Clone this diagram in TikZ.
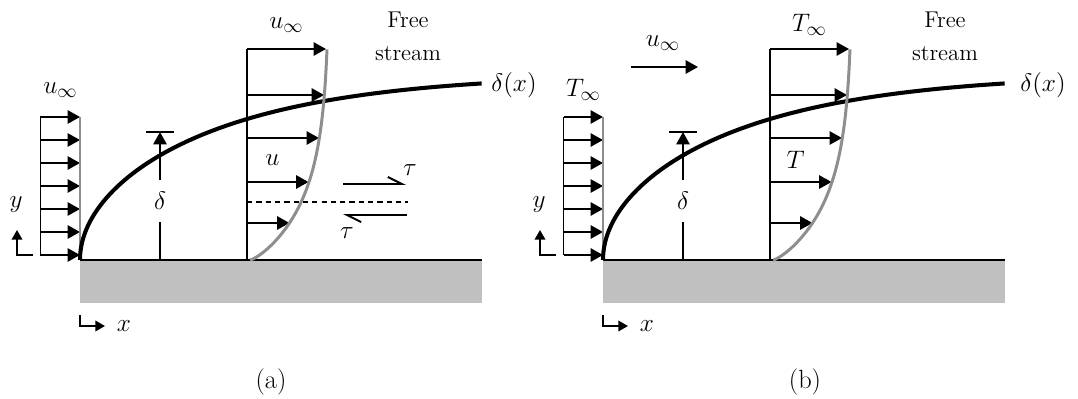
\documentclass[tikz,border=0pt]{standalone}
\usepackage{amsmath}
\usetikzlibrary{arrows.meta,positioning}
\definecolor{wallgray}{HTML}{C0C0C0}
\definecolor{profgray}{HTML}{8E8E8E}

\begin{document}
\begin{tikzpicture}[
  line width=1.1pt,
  flow/.style={-{Triangle[length=7pt,width=7.5pt]}},
  axis/.style={-{Triangle[length=5.5pt,width=6pt]}},
  shear/.style={-{Straight Barb[left,length=8pt,width=8pt]}},
  lbl/.style={font=\fontsize{15}{18}\selectfont, inner sep=1pt},
  txt/.style={font=\fontsize{13}{19}\selectfont, align=center},
  prof/.style={draw=profgray, line width=1.7pt},
  edge/.style={line width=2.3pt},
]
  \useasboundingbox (-1.6,-2.76) rectangle (19.96,5.2);

  % the two panels share the plate, the inflow and the profile
  \foreach \sx/\p/\q/\fx/\dx/\px in {0/a/u/6.56/8.68/3.82, 10.46/b/T/6.84/8.8/4.04}{
  \begin{scope}[xshift=\sx cm]
    \fill[wallgray] (0,0) rectangle (8.04,-0.854);
    \draw (0,0) -- (8.04,0);

    % uniform inflow at the leading edge
    \draw (-0.79,0.1) -- (-0.79,2.86);
    \foreach \k in {0,...,6}
      \draw[flow] (-0.79,{0.1+0.46*\k}) -- (0,{0.1+0.46*\k});
    \draw[prof] (0,0) -- (0,2.86);
    \node[lbl] (inflow\p) at (-0.39,3.4) {$\q_\infty$};

    % small axes
    \draw[axis] (-0.94,0.1) -- (-1.26,0.1) -- (-1.26,0.6);
    \node[lbl] (ylab\p) at (-1.28,1.1) {$y$};
    \draw[axis] (0,-1.1) -- (0,-1.32) -- (0.5,-1.32);
    \node[lbl] (xlab\p) at (0.88,-1.32) {$x$};

    % layer edge
    \draw[edge] plot[domain=0:2.8355, samples=90, variable=\t]
      ({\t*\t}, {1.72*\t/sqrt(1+0.0398*\t*\t*\t)});
    \node[lbl] (delx\p) at (\dx,3.5) {$\delta(x)$};

    % thickness marker
    \coordinate (dbase\p) at (1.6,0);
    \coordinate (dtop\p) at (1.6,2.56);
    \node[lbl, inner ysep=0.22cm] (dlab\p) at (1.6,1.18) {$\delta$};
    \draw (dbase\p) -- (dlab\p.south);
    \draw[flow] (dlab\p.north) -- (dtop\p);
    \draw (1.32,2.56) -- (1.88,2.56);

    % profile inside the layer
    \draw (3.34,0) -- (3.34,4.22);
    \foreach \y/\tip in {4.22/4.92, 3.3/4.88, 2.44/4.78, 1.56/4.57, 0.74/4.19}
      \draw[flow] (3.34,\y) -- (\tip,\y);
    \draw[prof] plot[domain=0:1, samples=60, variable=\s]
      ({3.4+1.54*tanh(2*\s*sqrt(\s))/0.964}, {4.22*\s*\s});
    \node[lbl] (top\p) at (4.13,4.7) {$\q_\infty$};
    \node[lbl] (inner\p) at (3.85,2.0) {$\q$};

    \node[txt] (free\p) at (\fx,4.47) {Free\\stream};
    \node[lbl] (cap\p) at (\px,-2.44) {(\p)};
  \end{scope}
  }

  % (a): shear across a layer
  \draw[dash pattern=on 3pt off 2.3pt] (3.34,1.16) -- (6.56,1.16);
  \draw[shear] (5.26,1.52) -- (6.52,1.52);
  \draw[shear] (6.54,0.9) -- (5.26,0.9);
  \node[lbl] (tauup) at (6.6,1.8) {$\tau$};
  \node[lbl] (taudn) at (5.34,0.54) {$\tau$};

  % (b): free stream velocity
  \coordinate (ustart) at (11.02,3.86);
  \coordinate (uend) at (12.36,3.86);
  \draw[flow] (ustart) -- (uend);
  \node[lbl] (ulab) at (11.66,4.34) {$u_\infty$};
\end{tikzpicture}
\end{document}
